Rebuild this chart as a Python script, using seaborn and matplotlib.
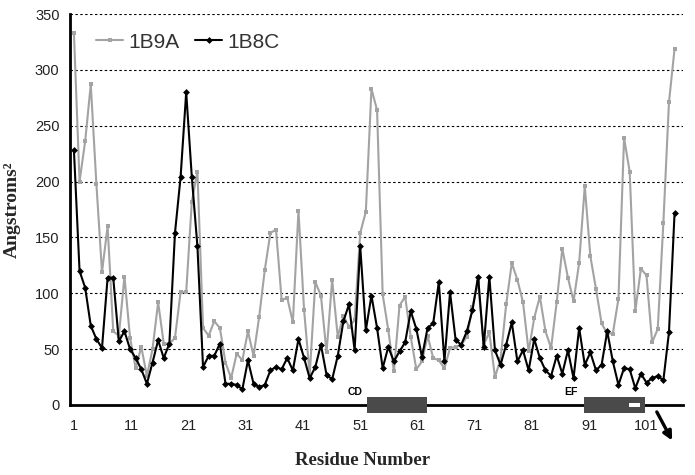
import numpy as np
import pandas as pd
import matplotlib
matplotlib.use("Agg")
import matplotlib.pyplot as plt
from matplotlib.patches import Rectangle
import seaborn as sns

# values
residues = list(range(1, 109))

b9a = [333, 200, 236, 287, 198, 119, 160, 66, 62, 115,
       60, 33, 52, 26, 50, 92, 55, 55, 60, 101,
       101, 182, 209, 69, 62, 75, 69, 38, 24, 46,
       40, 66, 44, 79, 121, 154, 157, 94, 96, 74,
       174, 85, 27, 110, 98, 47, 112, 61, 80, 70,
       76, 154, 173, 283, 264, 99, 67, 30, 89, 97,
       61, 32, 39, 62, 42, 40, 33, 51, 52, 54,
       61, 88, 110, 54, 65, 25, 41, 90, 127, 112,
       92, 48, 78, 97, 66, 51, 92, 140, 114, 93,
       127, 196, 133, 104, 73, 64, 64, 95, 239, 209,
       84, 122, 116, 56, 68, 163, 271, 319]

b8c = [228, 120, 105, 71, 59, 51, 114, 114, 57, 66,
       50, 42, 32, 19, 38, 58, 42, 55, 154, 204,
       280, 204, 142, 34, 44, 44, 55, 19, 19, 18,
       14, 40, 19, 16, 18, 31, 34, 32, 42, 31,
       59, 42, 24, 34, 54, 27, 23, 44, 75, 90,
       49, 142, 67, 98, 69, 33, 52, 39, 48, 56,
       84, 68, 43, 69, 73, 110, 39, 101, 58, 54,
       66, 85, 115, 52, 115, 49, 36, 54, 74, 39,
       49, 31, 59, 42, 31, 26, 44, 28, 49, 24,
       69, 36, 47, 31, 36, 66, 39, 18, 33, 32,
       15, 28, 20, 24, 26, 22, 65, 172]

series_names = ["1B9A", "1B8C"]
tick_values = list(range(1, 102, 10))
tick_labels = [str(v) for v in tick_values]
minor_values = list(range(6, 107, 10))
# the printed axis labels are spread a little wider than the points
label_scale = 5.74 / 5.63

# helix regions marked under the axis
regions = ["CD", "EF"]
region_start = [53.2, 91.8]
region_end = [63.9, 102.7]

df = pd.DataFrame({
    "Residue": residues * 2,
    "Area": b9a + b8c,
    "Protein": [series_names[0]] * len(b9a) + [series_names[1]] * len(b8c),
})

sns.set_style("white")
plt.rcParams["font.family"] = ["Liberation Sans", "DejaVu Sans"]

fig = plt.figure(figsize=(6.95, 4.75), dpi=100)
ax = fig.add_axes([70 / 695, 70 / 475, 613 / 695, 391 / 475])

sns.lineplot(data=df, x="Residue", y="Area", hue="Protein", style="Protein",
             palette={"1B9A": "#a3a3a3", "1B8C": "#000000"},
             markers={"1B9A": "s", "1B8C": "D"}, dashes=False,
             markersize=3.5, markeredgewidth=0, linewidth=1.5, ax=ax)

ax.set_xlim(0.3, 109.5)
ax.set_ylim(0, 350)

# dashed horizontal grid
for y in range(50, 351, 50):
    ax.axhline(y, color="black", lw=0.8, ls=(0, (2.2, 2.2)), zorder=0)

ax.set_yticks(range(0, 351, 50))
ax.set_xticks([1 + (v - 1) * label_scale for v in tick_values])
ax.set_xticklabels(tick_labels)
ax.set_xticks([1 + (v - 1) * label_scale for v in minor_values], minor=True)
ax.tick_params(axis="both", which="both", direction="out", length=4, width=1.5,
               color="black", labelsize=10.5, labelcolor="#222222")
ax.tick_params(axis="x", which="major", pad=6)

for side in ["top", "right"]:
    ax.spines[side].set_visible(False)
for side in ["left", "bottom"]:
    ax.spines[side].set_linewidth(2)
    ax.spines[side].set_color("black")

# region boxes and labels
for name, x0, x1 in zip(regions, region_start, region_end):
    ax.add_patch(Rectangle((x0, -7.5), x1 - x0, 15, facecolor="#4a4a4a",
                           edgecolor="none", clip_on=False, zorder=5))
    ax.text(x0 - 2.2, 7, name, ha="center", va="bottom", fontsize=7.5,
            fontweight="bold", color="black")
ax.add_patch(Rectangle((99.8, -1.5), 2.0, 3.5, facecolor="white",
                       edgecolor="none", clip_on=False, zorder=6))
ax.annotate("", xy=(107.8, -34), xytext=(104.6, -4),
            arrowprops=dict(arrowstyle="-|>", color="black", lw=2.4,
                            mutation_scale=13),
            annotation_clip=False)

ax.set_xlabel("Residue Number", fontsize=13.5, fontweight="bold",
              family=["Liberation Serif", "DejaVu Serif"])
ax.xaxis.label.set_va("center")
ax.xaxis.set_label_coords(0.478, -0.141)
ax.set_ylabel("Angstroms²", fontsize=14, fontweight="bold",
              family=["Liberation Serif", "DejaVu Serif"])
ax.yaxis.set_label_coords(-0.08, 0.5)

leg = ax.legend(ncol=2, frameon=False, loc="center left",
                bbox_to_anchor=(0.012, 0.928), fontsize=15, handlelength=1.3,
                columnspacing=0.75, handletextpad=0.25)
for t in leg.get_texts():
    t.set_color("#333333")

fig.savefig("out.png", dpi=100)
